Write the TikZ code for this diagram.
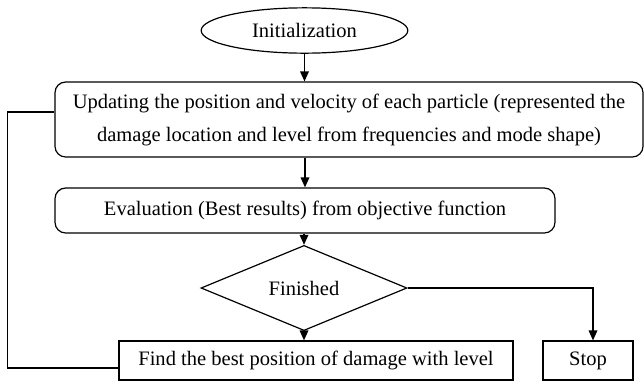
\documentclass[tikz,border=0pt]{standalone}
\usepackage{fontspec}
\setmainfont{Liberation Serif}
\usepackage{tikz}
\usetikzlibrary{shapes.geometric,arrows.meta,positioning}
\tikzstyle{startnode} = [draw, ellipse, line width=0.9pt, inner sep=0pt, minimum width=155pt, minimum height=34pt]
\tikzstyle{procbox} = [draw, rectangle, rounded corners=8pt, line width=0.9pt, inner sep=0pt, align=center]
\tikzstyle{plainbox} = [draw, rectangle, line width=0.9pt, inner sep=0pt, minimum height=29.25pt]
\tikzstyle{decisionbox} = [draw, diamond, line width=0.9pt, inner sep=0pt, minimum width=154.5pt, minimum height=49.5pt]
\tikzstyle{flecha} = [line width=0.9pt, -{Triangle[length=7.5pt,width=6.5pt]}]
\tikzstyle{enlace} = [line width=0.9pt]

\begin{document}
\begin{tikzpicture}[x=0.75pt, y=-0.75pt, font=\fontsize{15.4}{24.75}\selectfont]
		\useasboundingbox (0,0) rectangle (644,383);
		\node[startnode] (init) at (304.5,30.5) {Initialization};
		\node[procbox, minimum width=441pt, minimum height=56.25pt] (upd) at (349,119.5)
			{Updating the position and velocity of each particle (represented the\\
			damage location and level from frequencies and mode shape)};
		\node[procbox, minimum width=375pt, minimum height=33.75pt] (eval) at (305,210.5)
			{Evaluation (Best results) from objective function};
		\node[decisionbox] (fin) at (304,288) {Finished};
		\node[plainbox, minimum width=295.5pt] (find) at (316,360.5) {Find the best position of damage with level};
		\node[plainbox, minimum width=67.5pt] (stop) at (588,360.5) {Stop};
		\draw[flecha] (init.south) -- (init.south |- upd.north);
		\draw[flecha] (eval.north |- upd.south) -- (eval.north);
		\draw[flecha] (eval.south -| fin.north) -- (fin.north);
		\draw[flecha] (fin.south) -- (fin.south |- find.north);
		\draw[flecha] (fin.east) -| ([xshift=3.75pt]stop.north);
		\draw[enlace] ([yshift=-5.6pt]find.west) -- ++(-111,0) |- ([yshift=5.6pt]upd.west);
	\end{tikzpicture}
\end{document}
